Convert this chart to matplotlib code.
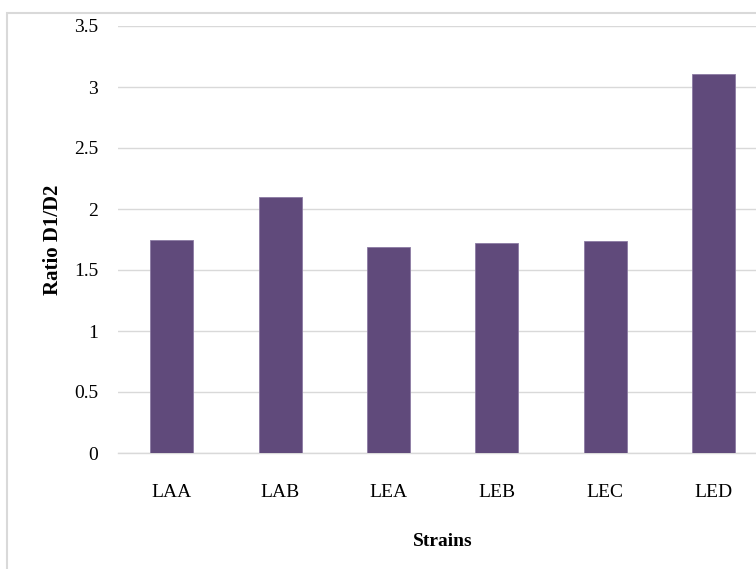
import matplotlib.pyplot as plt
from matplotlib.patches import Rectangle
import numpy as np

# Strains and their D1/D2 ratios
strains = ['LAA', 'LAB', 'LEA', 'LEB', 'LEC', 'LED']
ratios = [1.75, 2.10, 1.69, 1.72, 1.74, 3.11]
yticks = [0, 0.5, 1, 1.5, 2, 2.5, 3, 3.5]

plt.rcParams['font.family'] = ['Liberation Serif', 'DejaVu Serif']

W, H = 756, 569
fig = plt.figure(figsize=(W/100, H/100), dpi=100)

# chart area border (cropped at right and bottom, like the original)
fig.patches.append(Rectangle((7/W, -0.05), 1.2, 1 - 13/H + 0.05,
                             transform=fig.transFigure, fill=False,
                             edgecolor='#D9D9D9', linewidth=1.5))

left, right, top, bottom = 117.5, 768, 26, 453
ax = fig.add_axes([left/W, 1 - bottom/H, (right - left)/W, (bottom - top)/H])

x = np.arange(len(strains))
ax.bar(x, ratios, width=0.397, color='#604A7B', edgecolor='#8C7BA3',
       linewidth=0.6, zorder=3)

ax.set_xlim(-0.5, len(strains) - 0.5)
ax.set_ylim(0, 3.5)
ax.set_yticks(yticks)
ax.set_yticklabels(['0', '0.5', '1', '1.5', '2', '2.5', '3', '3.5'])
ax.set_xticks(x)
ax.set_xticklabels(strains)

ax.grid(axis='y', color='#D9D9D9', linewidth=1, zorder=0)
for side in ['left', 'right', 'top']:
    ax.spines[side].set_visible(False)
ax.spines['bottom'].set_color('#D9D9D9')
ax.spines['bottom'].set_linewidth(1)

ax.tick_params(axis='both', length=0, labelsize=14)
ax.tick_params(axis='y', pad=14)
ax.tick_params(axis='x', pad=22)

ax.set_ylabel('Ratio D1/D2', fontsize=15, fontweight='bold', labelpad=8)
ax.set_xlabel('Strains', fontsize=14, fontweight='bold', labelpad=23)

plt.savefig('out.png', dpi=100)
